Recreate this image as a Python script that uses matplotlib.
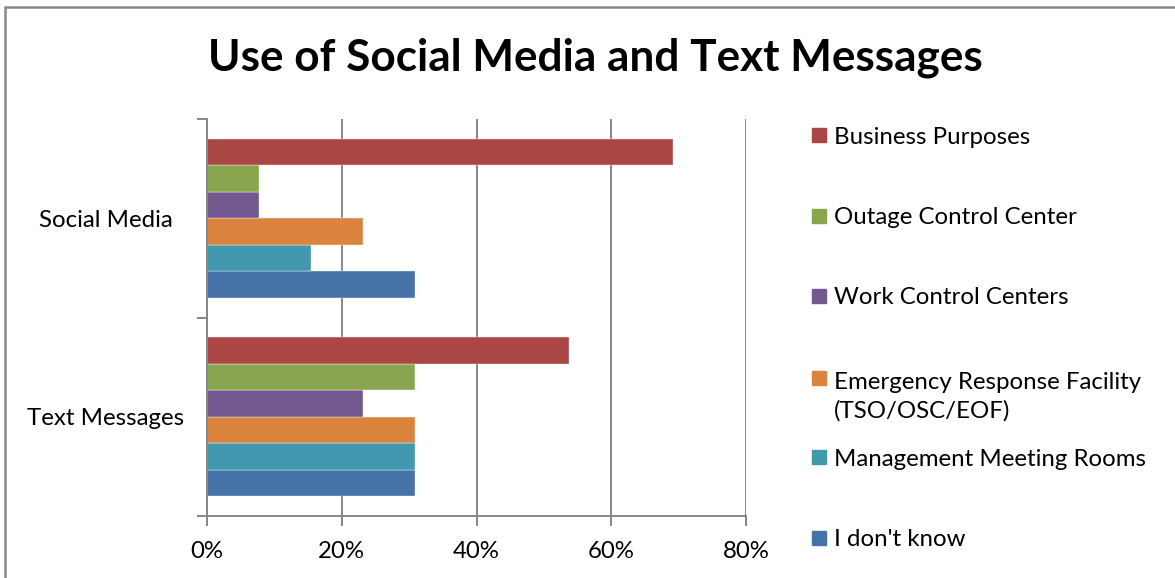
import matplotlib
matplotlib.use('Agg')
import matplotlib.pyplot as plt
from matplotlib.patches import Rectangle
from matplotlib.ticker import PercentFormatter
import numpy as np

plt.rcParams['font.family'] = ['Lato', 'DejaVu Sans']

# survey answers, share of respondents
categories = ['Text Messages', 'Social Media']
series = ['I don\'t know', 'Management Meeting Rooms',
          'Emergency Response Facility\n(TSO/OSC/EOF)',
          'Work Control Centers', 'Outage Control Center', 'Business Purposes']
values = {
    'I don\'t know':                                 [30.8, 30.8],
    'Management Meeting Rooms':                      [30.8, 15.4],
    'Emergency Response Facility\n(TSO/OSC/EOF)':    [30.8, 23.1],
    'Work Control Centers':                          [23.1, 7.7],
    'Outage Control Center':                         [30.8, 7.7],
    'Business Purposes':                             [53.8, 69.2],
}
colors = ['#4572A7', '#4198AF', '#DB843D', '#71588F', '#89A54E', '#AA4643']
xticks = [0, 20, 40, 60, 80]

W, H = 1175, 578
fig = plt.figure(figsize=(W / 100, H / 100), dpi=100)

def fx(px):
    return px / W

def fy(py):
    return 1 - py / H

# outer chart frame (right and bottom edges fall outside the canvas)
fig.patches.append(Rectangle((fx(5), -0.1), 1.2, fy(7) + 0.1, transform=fig.transFigure,
                             fill=False, edgecolor='#898989', linewidth=1.8))

ax = fig.add_axes([fx(207), fy(516), fx(746) - fx(207), fy(119) - fy(516)])

n = len(series)
group = 0.8
bh = group / n
y0 = np.arange(len(categories))
for i, name in enumerate(series):
    ypos = y0 - group / 2 + bh * (i + 0.5)
    ax.barh(ypos, values[name], height=bh, color=colors[i], edgecolor='#f4f4f4',
            linewidth=0.3, zorder=3)

ax.set_xlim(0, 80)
ax.set_ylim(-0.5, len(categories) - 0.5)
ax.set_xticks(xticks)
ax.xaxis.set_major_formatter(PercentFormatter(decimals=0))
ax.grid(axis='x', color='#868686', linewidth=1.4, zorder=0)

# category boundaries as major ticks, labels on minor ticks
ax.set_yticks(np.arange(-0.5, len(categories), 1.0))
ax.set_yticklabels([])
ax.set_yticks(y0, minor=True)
ax.set_yticklabels(categories, minor=True, fontsize=17.3, ha='center')
ax.tick_params(axis='y', which='minor', length=0, pad=73)
ax.tick_params(axis='y', which='major', length=7, width=1.4, color='#868686')
ax.tick_params(axis='x', length=7, width=1.4, color='#868686', labelsize=17.3, pad=11)

for side in ['top', 'right']:
    ax.spines[side].set_visible(False)
for side in ['left', 'bottom']:
    ax.spines[side].set_color('#868686')
    ax.spines[side].set_linewidth(1.4)
ax.spines['left'].set_zorder(4)

fig.text(fx(595), fy(58), 'Use of Social Media and Text Messages', ha='center', va='center',
         fontsize=31.8, fontweight='bold')

# legend, listed top to bottom in reverse series order
legend_y = [540, 459, 397, 298, 218, 137]
for name, c, ly in zip(series, colors, legend_y):
    sq_y = 378 if '\n' in name else ly - 2
    fig.patches.append(Rectangle((fx(812), fy(sq_y + 7)), fx(14), 14 / H,
                                 transform=fig.transFigure, color=c))
    fig.text(fx(834), fy(ly), name, ha='left', va='center', fontsize=17.3, linespacing=1.38)

fig.savefig('out.png', dpi=100)
